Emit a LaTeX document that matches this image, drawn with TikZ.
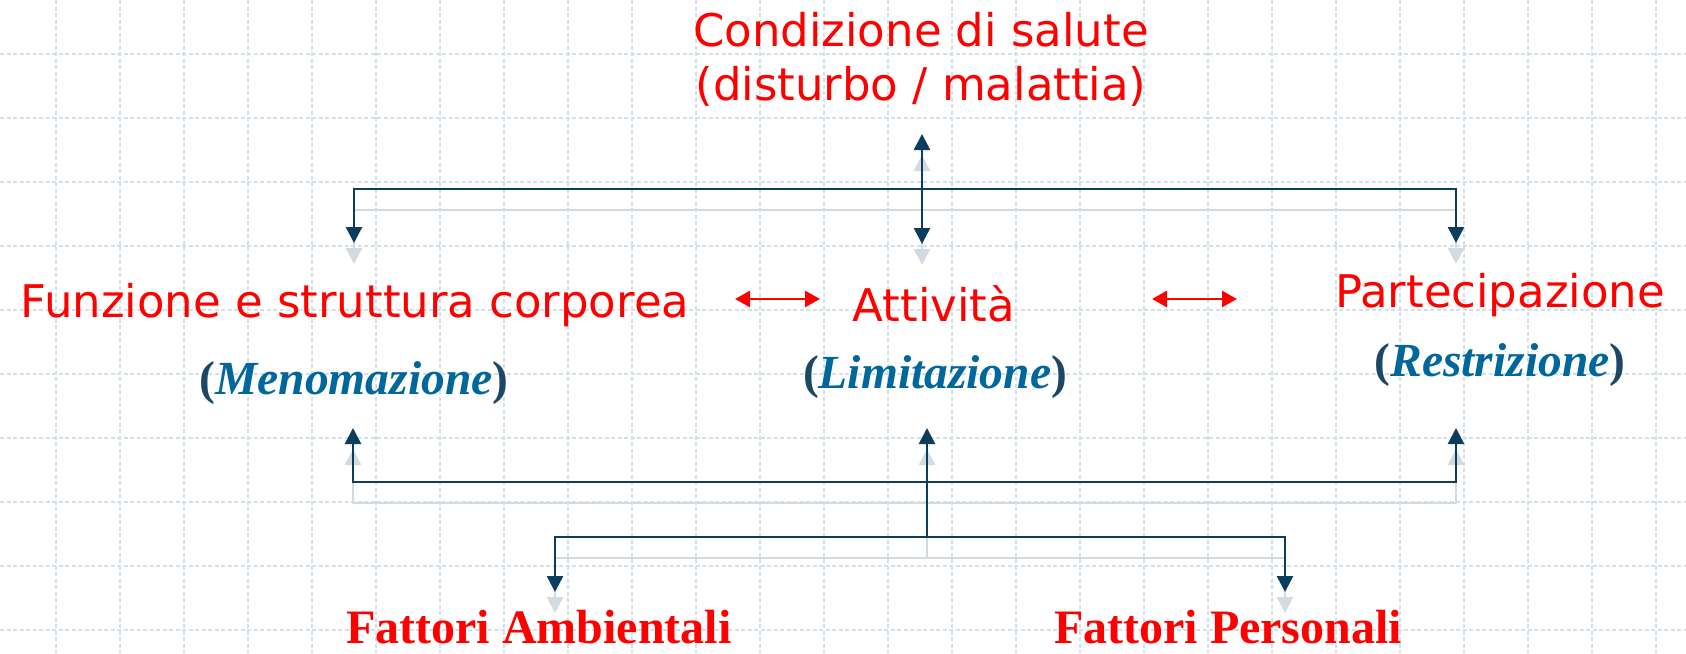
\documentclass[tikz,border=0pt]{standalone}
\usepackage{fontspec}
\setmainfont{Liberation Serif}
\newfontfamily\labsans{DejaVu Sans}
\usetikzlibrary{arrows.meta}

\definecolor{gridc}{HTML}{D3E0E8}
\definecolor{navy}{HTML}{0B3D5E}
\definecolor{palelink}{HTML}{D2DAE2}
\definecolor{qualblue}{HTML}{00679C}
\definecolor{parblue}{HTML}{1C4866}

\tikzset{
  redlab/.style={text=red, font=\labsans\fontsize{45}{54}\selectfont, inner sep=0pt, anchor=base},
  quallab/.style={font=\bfseries\fontsize{47.5}{57}\selectfont, inner sep=0pt, anchor=base},
  factlab/.style={text=red, font=\bfseries\fontsize{48}{58}\selectfont, inner sep=0pt, anchor=base},
  gridline/.style={gridc, line width=1.2pt, dash pattern=on 4pt off 2.5pt},
  link/.style={line width=2.6pt, -{Triangle[length=16pt,width=16pt]}},
  dlink/.style={line width=2.6pt, {Triangle[length=16pt,width=16pt]}-{Triangle[length=16pt,width=16pt]}},
  redlink/.style={red, line width=2.8pt, {Triangle[length=15pt,width=16pt]}-{Triangle[length=15pt,width=16pt]}},
}
\newcommand{\qual}[1]{{\color{parblue}(}\textit{\color{qualblue}#1}{\color{parblue})}}

\begin{document}
\begin{tikzpicture}[x=1pt,y=-1pt]
	\useasboundingbox (0,0) rectangle (1686,653);
	\fill [white] (0,0) rectangle (1686,653);
	% background grid
	\foreach \gx in {56,120,...,1686}
		\draw [gridline] (\gx,0) -- (\gx,653);
	\foreach \gy in {54,118,...,653}
		\draw [gridline] (0,\gy) -- (1686,\gy);

	% labels
	\node [redlab] (cond) at (921,46) {Condizione di salute};
	\node [redlab] (condsub) at (921,100) {(disturbo / malattia)};
	\node [redlab] (funz) at (355,317) {Funzione e struttura corporea};
	\node [redlab] (att) at (934,321) {Attività};
	\node [redlab] (part) at (1500,307) {Partecipazione};
	\node [quallab] (meno) at (354,394) {\qual{Menomazione}};
	\node [quallab] (limi) at (935,388) {\qual{Limitazione}};
	\node [quallab] (restr) at (1500,376) {\qual{Restrizione}};
	\node [factlab] (amb) at (539,643) {Fattori Ambientali};
	\node [factlab] (pers) at (1228,643) {Fattori Personali};

	% connector ends
	\coordinate (condB) at (922,134);
	\coordinate (attT) at (922,244);
	\coordinate (topM) at (922,189);
	\coordinate (funzT) at (354,243);
	\coordinate (partT) at (1456,243);
	\coordinate (menoB) at (353,428);
	\coordinate (limiB) at (927,428);
	\coordinate (restrB) at (1456,428);
	\coordinate (midM) at (927,482);
	\coordinate (lowM) at (927,537);
	\coordinate (ambT) at (555,592);
	\coordinate (persT) at (1285,592);

	% navy links with their pale shadow
	\foreach \dy/\col in {21/palelink,0/navy}{
		\begin{scope}[transform canvas={yshift=-\dy pt}, color=\col]
			\draw [dlink] (condB) -- (attT);
			\draw [link] (topM) -| (funzT);
			\draw [link] (topM) -| (partT);
			\draw [link] (midM) -| (menoB);
			\draw [link] (midM) -| (restrB);
			\draw [link] (lowM) -- (limiB);
			\draw [link] (lowM) -| (ambT);
			\draw [link] (lowM) -| (persT);
		\end{scope}
	}

	% red double arrows
	\coordinate (r1a) at (735,299);
	\coordinate (r1b) at (820,299);
	\coordinate (r2a) at (1152,299);
	\coordinate (r2b) at (1237,299);
	\draw [redlink] (r1a) -- (r1b);
	\draw [redlink] (r2a) -- (r2b);
\end{tikzpicture}
\end{document}
